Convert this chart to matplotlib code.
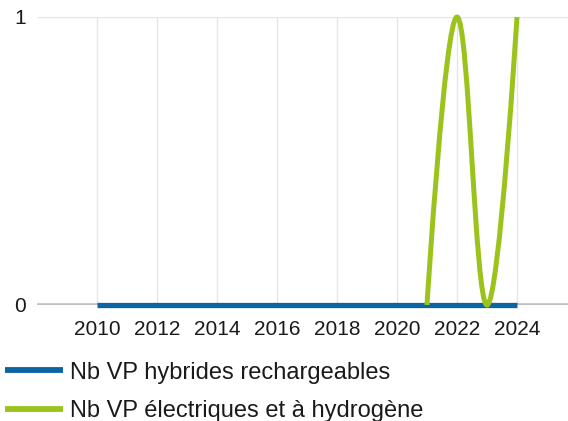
import numpy as np
import matplotlib
matplotlib.use('Agg')
from matplotlib import pyplot as plt
from matplotlib.path import Path
from matplotlib.patches import PathPatch
from matplotlib.lines import Line2D

plt.rcParams['font.family'] = ['Liberation Sans', 'DejaVu Sans']

years_hybrid = list(range(2010, 2025))
hybrid = [0] * len(years_hybrid)

years_elec = [2021, 2022, 2023, 2024]
elec = [0, 1, 0, 1]

label_hybrid = 'Nb VP hybrides rechargeables'
label_elec = 'Nb VP électriques et à hydrogène'

blue = '#0c65a3'
green = '#9bc31c'


def spline_path(xs, ys):
    # smooth curve with control points like a highcharts spline
    n = len(xs)
    left = [(x, y) for x, y in zip(xs, ys)]
    right = [(x, y) for x, y in zip(xs, ys)]
    for i in range(1, n - 1):
        x, y = xs[i], ys[i]
        lx, ly = xs[i - 1], ys[i - 1]
        nx, ny = xs[i + 1], ys[i + 1]
        lcx = (1.5 * x + lx) / 2.5
        lcy = (1.5 * y + ly) / 2.5
        rcx = (1.5 * x + nx) / 2.5
        rcy = (1.5 * y + ny) / 2.5
        if rcx != lcx:
            corr = (rcy - lcy) * (rcx - x) / (rcx - lcx) + y - rcy
            lcy += corr
            rcy += corr
        if lcy > ly and lcy > y:
            lcy = max(ly, y)
            rcy = 2 * y - lcy
        elif lcy < ly and lcy < y:
            lcy = min(ly, y)
            rcy = 2 * y - lcy
        if rcy > ny and rcy > y:
            rcy = max(ny, y)
            lcy = 2 * y - rcy
        elif rcy < ny and rcy < y:
            rcy = min(ny, y)
            lcy = 2 * y - rcy
        left[i] = (lcx, lcy)
        right[i] = (rcx, rcy)
    verts = [(xs[0], ys[0])]
    codes = [Path.MOVETO]
    for i in range(1, n):
        verts += [right[i - 1], left[i], (xs[i], ys[i])]
        codes += [Path.CURVE4] * 3
    return Path(verts, codes)


fig = plt.figure(figsize=(5.68, 4.21), dpi=100)
ax = fig.add_axes([0.065, 1 - 305 / 421, 0.935, 288 / 421])

ax.set_xlim(2008, 2025.7)
ax.set_ylim(0, 1)
for s in ax.spines.values():
    s.set_visible(False)

ax.set_xticks(range(2010, 2025, 2))
ax.set_yticks([0, 1])
ax.tick_params(length=0, labelsize=15, colors='#1a1a1a')
ax.tick_params(axis='x', pad=11)
ax.tick_params(axis='y', pad=8)
ax.grid(True, color='#e6e6e6', linewidth=1)
ax.set_axisbelow(True)
ax.axhline(0, color='#bfbfbf', linewidth=2.6, zorder=1)

ax.plot(years_hybrid, hybrid, color=blue, linewidth=3.8, solid_capstyle='butt',
        zorder=3, clip_on=False)
ax.add_patch(PathPatch(spline_path(years_elec, elec), facecolor='none',
                       edgecolor=green, linewidth=3.6, zorder=4, clip_on=False))

handles = [Line2D([], [], color=blue, linewidth=4.2, solid_capstyle='butt'),
           Line2D([], [], color=green, linewidth=4.2, solid_capstyle='butt')]
fig.legend(handles, [label_hybrid, label_elec], loc='upper left',
           bbox_to_anchor=(0.0, 1 - 357 / 421), frameon=False, fontsize=17,
           handlelength=2.45, handletextpad=0.3, labelspacing=0.68,
           borderaxespad=0, borderpad=0.2, labelcolor='#1a1a1a')

fig.savefig('out.png', dpi=100)
